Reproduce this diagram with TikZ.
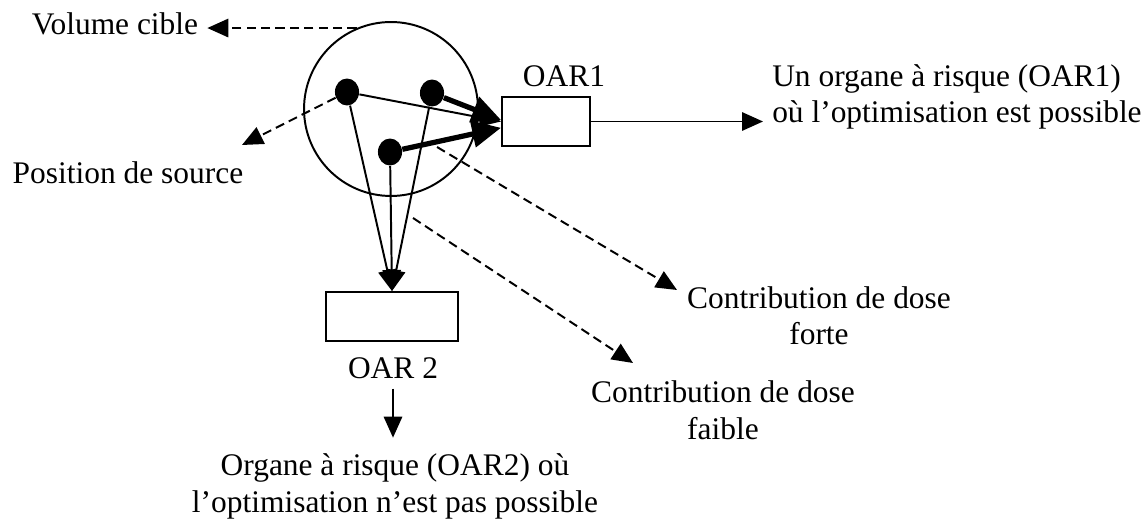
\documentclass[tikz,border=0pt]{standalone}
\usepackage{fontspec}
\setmainfont{Liberation Serif}
\usetikzlibrary{arrows.meta,shapes.geometric}
\begin{document}
\begin{tikzpicture}[x=0.3817pt, y=-0.3817pt,
  every node/.style={font=\fontsize{12}{13.8}\selectfont},
  txt/.style={anchor=base, align=center},
  organe/.style={draw, line width=0.75pt, minimum width=#1, minimum height=18.7pt, inner sep=0pt},
  source/.style={ellipse, fill=black, minimum width=9.2pt, minimum height=10.3pt, inner sep=0pt},
  fl/.style={-{Triangle[length=8pt,width=7pt]}, line width=0.75pt},
  fort/.style={-{Triangle[length=11pt,width=10pt]}, line width=2pt},
  tiret/.style={fl, dash pattern=on 3.5pt off 2pt}]
  \useasboundingbox (0,0) rectangle (1145,524);

  % Volume cible et sources
  \node[draw, circle, line width=0.75pt, minimum size=66.4pt, inner sep=0pt] (vol) at (391,109) {};
  \node[source] (s1) at (347,92) {};
  \node[source] (s2) at (432,93) {};
  \node[source] (s3) at (390,152) {};

  % Organes
  \node[organe=33.6pt] (oar1) at (546,121.5) {};
  \node[organe=50.4pt] (oar2) at (392,316.5) {};

  % Textes (la base est celle de la dernière ligne)
  \node[txt] (lvol) at (115,35) {Volume cible};
  \node[txt] (lpos) at (128,184) {Position de source};
  \node[txt] (loar1) at (564,87) {OAR1};
  \node[txt] (loar2) at (393,379) {OAR 2};
  \node[txt, align=left, anchor=base west] (txt1) at (763,123) {Un organe à risque (OAR1)\\où l'optimisation est possible};
  \node[txt] (forte) at (819,345) {Contribution de dose\\forte};
  \node[txt] (faible) at (723,439) {Contribution de dose\\faible};
  \node[txt] (txt2) at (395,512) {Organe à risque (OAR2) où\\l'optimisation n'est pas possible};

  % Extrémités libres
  \coordinate (ptip) at (242,145);
  \coordinate (dforte) at (437,147);
  \coordinate (tforte) at (677,290);
  \coordinate (dfaible) at (413,218);
  \coordinate (tfaible) at (633,363);

  % Flèches
  \draw[fl] (s1) -- (oar1.west);
  \draw[fort] (s2) -- (oar1.178);
  \draw[fort] (s3) -- (oar1.188);
  \draw[fl] (s1) -- (oar2.north);
  \draw[fl] (s2) -- (oar2.north);
  \draw[fl] (s3) -- (oar2.north);
  \draw[fl] (oar1.east) -- (oar1.east -| txt1.west);
  \draw[fl, shorten >=2.7pt] (loar2.south) -- (loar2.south |- txt2.north);

  % Renvois en tirets
  \draw[tiret] (vol.113) -- (vol.113 -| lvol.east);
  \draw[tiret] (s1) -- (ptip);
  \draw[tiret] (dforte) -- (tforte);
  \draw[tiret] (dfaible) -- (tfaible);
\end{tikzpicture}
\end{document}
